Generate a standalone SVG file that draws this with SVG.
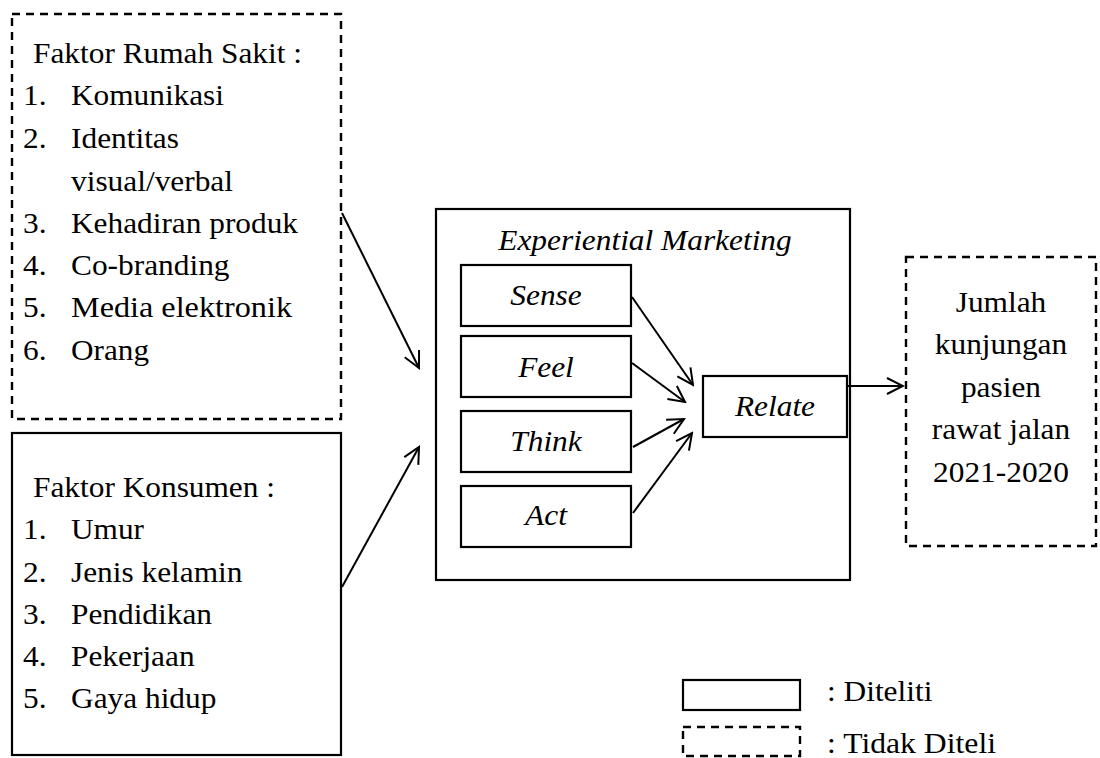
<svg xmlns="http://www.w3.org/2000/svg" width="1100" height="758" viewBox="0 0 1100 758">
<defs>
<style>
text{font-family:"Liberation Serif","Times New Roman",serif;font-size:28.5px;fill:#000}
.i{font-style:italic}
.m{text-anchor:middle}
.solid{fill:#fff;stroke:#000;stroke-width:2.2}
.dash{fill:#fff;stroke:#000;stroke-width:2.4;stroke-dasharray:8 6}
.con{fill:none;stroke:#000;stroke-width:2;marker-end:url(#ah)}
</style>
<marker id="ah" markerUnits="userSpaceOnUse" viewBox="-20 -10 22 20" markerWidth="22" markerHeight="20" refX="0" refY="0" orient="auto">
<path d="M-16,-8 L0,0 L-16,8" fill="none" stroke="#000" stroke-width="2"/>
</marker>
</defs>
<rect width="1100" height="758" fill="#fff"/>

<g id="faktor-rumah-sakit">
<rect class="dash" x="12" y="14" width="329" height="405"/>
<text x="33" y="63" textLength="269" lengthAdjust="spacingAndGlyphs">Faktor Rumah Sakit :</text>
<text x="23" y="105" textLength="23.5" lengthAdjust="spacingAndGlyphs">1.</text>
<text x="71" y="105" textLength="153" lengthAdjust="spacingAndGlyphs">Komunikasi</text>
<text x="23" y="148" textLength="23.5" lengthAdjust="spacingAndGlyphs">2.</text>
<text x="71" y="148" textLength="108" lengthAdjust="spacingAndGlyphs">Identitas</text>
<text x="71" y="191" textLength="162" lengthAdjust="spacingAndGlyphs">visual/verbal</text>
<text x="23" y="233" textLength="23.5" lengthAdjust="spacingAndGlyphs">3.</text>
<text x="71" y="233" textLength="227" lengthAdjust="spacingAndGlyphs">Kehadiran produk</text>
<text x="23" y="275" textLength="23.5" lengthAdjust="spacingAndGlyphs">4.</text>
<text x="71" y="275" textLength="158.5" lengthAdjust="spacingAndGlyphs">Co-branding</text>
<text x="23" y="317" textLength="23.5" lengthAdjust="spacingAndGlyphs">5.</text>
<text x="71" y="317" textLength="221" lengthAdjust="spacingAndGlyphs">Media elektronik</text>
<text x="23" y="360" textLength="23.5" lengthAdjust="spacingAndGlyphs">6.</text>
<text x="71" y="360" textLength="78" lengthAdjust="spacingAndGlyphs">Orang</text>
</g>

<g id="faktor-konsumen">
<rect class="solid" x="12" y="433" width="329" height="322"/>
<text x="33" y="497" textLength="242" lengthAdjust="spacingAndGlyphs">Faktor Konsumen :</text>
<text x="23" y="539" textLength="23.5" lengthAdjust="spacingAndGlyphs">1.</text>
<text x="71" y="539" textLength="73" lengthAdjust="spacingAndGlyphs">Umur</text>
<text x="23" y="582" textLength="23.5" lengthAdjust="spacingAndGlyphs">2.</text>
<text x="71" y="582" textLength="171.5" lengthAdjust="spacingAndGlyphs">Jenis kelamin</text>
<text x="23" y="624" textLength="23.5" lengthAdjust="spacingAndGlyphs">3.</text>
<text x="71" y="624" textLength="141" lengthAdjust="spacingAndGlyphs">Pendidikan</text>
<text x="23" y="666" textLength="23.5" lengthAdjust="spacingAndGlyphs">4.</text>
<text x="71" y="666" textLength="123.6" lengthAdjust="spacingAndGlyphs">Pekerjaan</text>
<text x="23" y="708" textLength="23.5" lengthAdjust="spacingAndGlyphs">5.</text>
<text x="71" y="708" textLength="145.4" lengthAdjust="spacingAndGlyphs">Gaya hidup</text>
</g>

<g id="experiential-marketing">
<rect class="solid" x="436" y="209" width="414" height="371"/>
<text class="i m" x="645" y="250" textLength="293.4" lengthAdjust="spacingAndGlyphs">Experiential Marketing</text>
</g>

<g id="sense">
<rect class="solid" x="461" y="265" width="170" height="61"/>
<text class="i m" x="546" y="305" textLength="71.4" lengthAdjust="spacingAndGlyphs">Sense</text>
</g>
<g id="feel">
<rect class="solid" x="461" y="336" width="170" height="61"/>
<text class="i m" x="546" y="377" textLength="55.7" lengthAdjust="spacingAndGlyphs">Feel</text>
</g>
<g id="think">
<rect class="solid" x="461" y="411" width="170" height="61"/>
<text class="i m" x="546" y="451" textLength="71.4" lengthAdjust="spacingAndGlyphs">Think</text>
</g>
<g id="act">
<rect class="solid" x="461" y="486" width="170" height="61"/>
<text class="i m" x="546" y="525" textLength="41.8" lengthAdjust="spacingAndGlyphs">Act</text>
</g>

<g id="relate">
<rect class="solid" x="703" y="376" width="144" height="61"/>
<text class="i m" x="775" y="416" textLength="80.1" lengthAdjust="spacingAndGlyphs">Relate</text>
</g>

<g id="jumlah-kunjungan">
<rect class="dash" x="906" y="257" width="190" height="289"/>
<text class="m" x="1001" y="312" textLength="90.6" lengthAdjust="spacingAndGlyphs">Jumlah</text>
<text class="m" x="1001" y="354" textLength="132.4" lengthAdjust="spacingAndGlyphs">kunjungan</text>
<text class="m" x="1001" y="397" textLength="80.1" lengthAdjust="spacingAndGlyphs">pasien</text>
<text class="m" x="1001" y="439" textLength="138.4" lengthAdjust="spacingAndGlyphs">rawat jalan</text>
<text class="m" x="1001" y="482" textLength="135.8" lengthAdjust="spacingAndGlyphs">2021-2020</text>
</g>

<g id="legend">
<rect class="solid" x="683" y="680" width="117" height="30"/>
<text x="827" y="701" textLength="105.4" lengthAdjust="spacingAndGlyphs">: Diteliti</text>
<rect class="dash" x="683" y="727" width="117" height="29"/>
<text x="827" y="753" textLength="169" lengthAdjust="spacingAndGlyphs">: Tidak Diteli</text>
</g>

<g id="connectors">
<line class="con" x1="342" y1="213" x2="419" y2="368"/>
<line class="con" x1="342" y1="587" x2="419" y2="447"/>
<line class="con" x1="632" y1="297" x2="693" y2="385"/>
<line class="con" x1="632" y1="363" x2="685" y2="402"/>
<line class="con" x1="633" y1="447" x2="684" y2="419"/>
<line class="con" x1="633" y1="513" x2="692" y2="433"/>
<line class="con" x1="847" y1="386" x2="903" y2="386"/>
</g>
</svg>
